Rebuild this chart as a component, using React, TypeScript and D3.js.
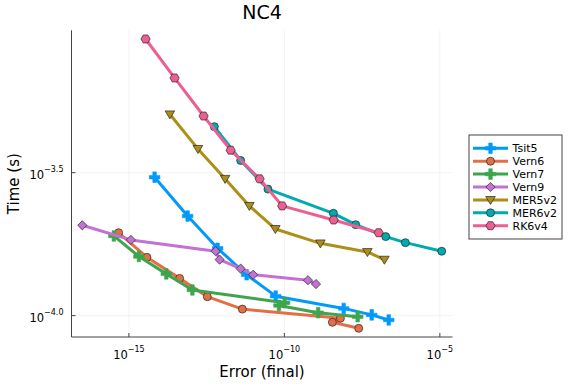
import React from 'react';
import * as d3 from 'd3';

// ---- data (error, time) ----
const tsit5Err = [6.71e-15, 7.74e-14, 7.14e-13, 6.12e-12, 5.25e-11, 8.09e-9, 6.44e-8, 2.27e-7];
const tsit5Time = [3.05e-4, 2.23e-4, 1.72e-4, 1.39e-4, 1.17e-4, 1.06e-4, 1.006e-4, 9.66e-5];
const vern6Err = [4.67e-16, 3.79e-15, 4.28e-14, 3.33e-13, 4.46e-12, 6.34e-9, 3.5e-9, 2.46e-8];
const vern6Time = [1.95e-4, 1.6e-4, 1.35e-4, 1.165e-4, 1.054e-4, 9.79e-5, 9.48e-5, 9.03e-5];
const vern7Err = [3.29e-16, 2.1e-15, 1.6e-14, 1.1e-13, 1.02e-10, 6.7e-11, 1.22e-9, 2.28e-8];
const vern7Time = [1.9e-4, 1.61e-4, 1.4e-4, 1.23e-4, 1.11e-4, 1.086e-4, 1.024e-4, 9.92e-5];
const vern9Err = [3.17e-17, 1.16e-15, 6.17e-13, 8.28e-13, 3.93e-12, 9.91e-12, 5.74e-10, 1.04e-9];
const vern9Time = [2.07e-4, 1.84e-4, 1.68e-4, 1.57e-4, 1.46e-4, 1.39e-4, 1.33e-4, 1.29e-4];
const mer5v2Err = [2.08e-14, 1.66e-13, 1.24e-12, 7.48e-12, 5.13e-11, 1.44e-9, 4.69e-8, 1.65e-7];
const mer5v2Time = [5.06e-4, 3.83e-4, 3.01e-4, 2.42e-4, 2.01e-4, 1.79e-4, 1.67e-4, 1.57e-4];
const mer6v2Err = [5.6e-13, 3.93e-12, 2.96e-11, 3.78e-9, 1.97e-8, 1.82e-7, 7.81e-7, 1.15e-5];
const mer6v2Time = [4.58e-4, 3.49e-4, 2.77e-4, 2.28e-4, 2.08e-4, 1.89e-4, 1.8e-4, 1.68e-4];
const rk6v4Err = [3.44e-15, 2.95e-14, 2.53e-13, 1.87e-12, 1.6e-11, 8.49e-11, 3.85e-9, 1.08e-7];
const rk6v4Time = [9.28e-4, 6.78e-4, 4.99e-4, 3.79e-4, 3.01e-4, 2.42e-4, 2.16e-4, 1.95e-4];

const seriesNames = ['Tsit5', 'Vern6', 'Vern7', 'Vern9', 'MER5v2', 'MER6v2', 'RK6v4'];
const seriesErr = [tsit5Err, vern6Err, vern7Err, vern9Err, mer5v2Err, mer6v2Err, rk6v4Err];
const seriesTime = [tsit5Time, vern6Time, vern7Time, vern9Time, mer5v2Time, mer6v2Time, rk6v4Time];
const seriesColors = ['#009AFA', '#E36F47', '#3EA44E', '#C371D2', '#AC8E18', '#00AAAE', '#ED5E93'];
const seriesMarkers = ['cross', 'circle', 'cross', 'diamond', 'dtriangle', 'circle', 'hexagon'];

const xTickExps = [-15, -10, -5];
const xTickLabels = ['−15', '−10', '−5'];
const yTickExps = [-4.0, -3.5];
const yTickLabels = ['−4.0', '−3.5'];

const title = 'NC4';
const xLabel = 'Error (final)';
const yLabel = 'Time (s)';

const W = 576;
const H = 384;
const FONT = 'DejaVu Sans, sans-serif';

function markerPath(kind: string): string {
  if (kind === 'cross') return d3.symbol(d3.symbolCross, 62)()!;
  if (kind === 'circle') return d3.symbol(d3.symbolCircle, Math.PI * 16)()!;
  if (kind === 'diamond') {
    const r = 4.6;
    return `M0,${-r}L${r},0L0,${r}L${-r},0Z`;
  }
  if (kind === 'dtriangle') {
    return 'M-4.8,-3.4L4.8,-3.4L0,4.6Z';
  }
  // hexagon
  const r = 4.6;
  const pts = d3.range(6).map((i) => {
    const a = (Math.PI / 3) * i;
    return [r * Math.cos(a), r * Math.sin(a)];
  });
  return 'M' + pts.map((p) => p.join(',')).join('L') + 'Z';
}

function Marker({ kind, color, x, y }: { kind: string; color: string; x: number; y: number }) {
  const isCross = kind === 'cross';
  return (
    <path
      d={markerPath(kind)}
      transform={`translate(${x},${y})`}
      fill={color}
      stroke={isCross ? color : '#222'}
      strokeWidth={isCross ? 0.6 : 0.8}
      strokeOpacity={isCross ? 1 : 0.85}
    />
  );
}

export default function App() {
  const allErr = seriesErr.flat().map(Math.log10);
  const allTime = seriesTime.flat().map(Math.log10);
  const [xmin, xmax] = d3.extent(allErr) as [number, number];
  const [ymin, ymax] = d3.extent(allTime) as [number, number];
  const xp = (xmax - xmin) * 0.03;
  const yp = (ymax - ymin) * 0.03;

  const left = 71.5, right = 452.5, top = 30.3, bottom = 337;
  const xs = d3.scaleLinear().domain([xmin - xp, xmax + xp]).range([left, right]);
  const ys = d3.scaleLinear().domain([ymin - yp, ymax + yp]).range([bottom, top]);

  const line = d3
    .line<[number, number]>()
    .x((d) => xs(Math.log10(d[0])))
    .y((d) => ys(Math.log10(d[1])));

  const legX = 469, legY = 135, legW = 93, legH = 104;
  const legRow = 12.9;

  return (
    <svg width={W} height={H} style={{ position: 'absolute', left: 0, top: 0, background: '#fff' }}>
      <rect x={0} y={0} width={W} height={H} fill="#fff" />
      {/* grid */}
      {xTickExps.map((e) => (
        <line key={'gx' + e} x1={xs(e)} x2={xs(e)} y1={top} y2={bottom} stroke="#000" strokeOpacity={0.1} strokeWidth={0.5} />
      ))}
      {yTickExps.map((e) => (
        <line key={'gy' + e} x1={left} x2={right} y1={ys(e)} y2={ys(e)} stroke="#000" strokeOpacity={0.1} strokeWidth={0.5} />
      ))}
      {/* axes */}
      <line x1={left} x2={left} y1={top} y2={bottom} stroke="#444" strokeWidth={1} />
      <line x1={left} x2={right} y1={bottom} y2={bottom} stroke="#444" strokeWidth={1} />
      {xTickExps.map((e, i) => (
        <g key={'xt' + e}>
          <line x1={xs(e)} x2={xs(e)} y1={bottom} y2={bottom - 4} stroke="#444" strokeWidth={1} />
          <text x={xs(e)} y={bottom + 22} textAnchor="middle" fontFamily={FONT} fontSize={11.5} fill="#000">
            <tspan>10</tspan>
            <tspan dy={-7} fontSize={8}>{xTickLabels[i]}</tspan>
          </text>
        </g>
      ))}
      {yTickExps.map((e, i) => (
        <g key={'yt' + e}>
          <line x1={left} x2={left + 4} y1={ys(e)} y2={ys(e)} stroke="#444" strokeWidth={1} />
          <text x={left - 8} y={ys(e) + 6.6} textAnchor="end" fontFamily={FONT} fontSize={11.5} fill="#000">
            <tspan>10</tspan>
            <tspan dy={-7} fontSize={8}>{yTickLabels[i]}</tspan>
          </text>
        </g>
      ))}
      {/* series */}
      {seriesNames.map((name, si) => {
        const pts = seriesErr[si].map((e, j) => [e, seriesTime[si][j]] as [number, number]);
        return (
          <g key={name}>
            <path d={line(pts)!} fill="none" stroke={seriesColors[si]} strokeWidth={3} strokeLinejoin="round" />
            {pts.map((p, j) => (
              <Marker key={j} kind={seriesMarkers[si]} color={seriesColors[si]} x={xs(Math.log10(p[0]))} y={ys(Math.log10(p[1]))} />
            ))}
          </g>
        );
      })}
      {/* title & labels */}
      <text x={(left + right) / 2} y={19} textAnchor="middle" fontFamily={FONT} fontSize={19} fill="#000">{title}</text>
      <text x={(left + right) / 2} y={377} textAnchor="middle" fontFamily={FONT} fontSize={15} fill="#000">{xLabel}</text>
      <text transform={`translate(19,${(top + bottom) / 2}) rotate(-90)`} textAnchor="middle" fontFamily={FONT} fontSize={15} fill="#000">{yLabel}</text>
      {/* legend */}
      <rect x={legX} y={legY} width={legW} height={legH} fill="#fff" stroke="#444" strokeWidth={1} />
      {seriesNames.map((name, si) => {
        const cy = legY + 13.3 + si * legRow;
        return (
          <g key={'lg' + name}>
            <line x1={473} x2={508} y1={cy} y2={cy} stroke={seriesColors[si]} strokeWidth={3} />
            <Marker kind={seriesMarkers[si]} color={seriesColors[si]} x={490.5} y={cy} />
            <text x={512.5} y={cy + 4} fontFamily={FONT} fontSize={11} fill="#000">{name}</text>
          </g>
        );
      })}
    </svg>
  );
}
